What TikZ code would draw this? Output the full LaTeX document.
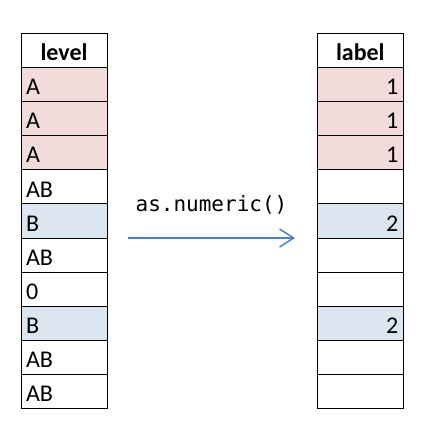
\documentclass[tikz,border=0pt]{standalone}
\usepackage{fontspec}
\setmainfont{Carlito}
\setmonofont{DejaVu Sans Mono}
\usepackage{tikz}
\usetikzlibrary{arrows.meta,positioning}
\definecolor{cellpink}{RGB}{242,220,219}
\definecolor{cellblue}{RGB}{220,230,241}
\definecolor{arrblue}{RGB}{79,129,189}

\begin{document}
\begin{tikzpicture}[x=1pt,y=-1pt,
  font=\fontsize{24}{28}\selectfont,
  cell/.style={draw=black,line width=1pt,minimum width=86pt,minimum height=34pt,
    text width=76pt,inner xsep=5pt,inner ysep=0pt,text height=20pt,text depth=0pt},
  lvcell/.style={cell,align=left},
  lbcell/.style={cell,align=right},
  head/.style={cell,align=center,font=\fontsize{24}{28}\selectfont\bfseries},
  pinkcell/.style={fill=cellpink},
  bluecell/.style={fill=cellblue},
  plaincell/.style={fill=white},
  conv/.style={-{Straight Barb[length=14pt,width=18pt,line width=1.5pt]},draw=arrblue,line width=1.5pt},
  fn/.style={font=\fontsize{21}{24}\ttfamily,anchor=base}]

\path[use as bounding box] (0,0) rectangle (425,443);
\node[head] (lv0) at (64,51) {level};
\node[head] (lb0) at (360.3,51) {label};
\foreach \i/\lv/\lb/\fc in {1/A/1/pinkcell,2/A/1/pinkcell,3/A/1/pinkcell,
    4/AB/{}/plaincell,5/B/2/bluecell,6/AB/{}/plaincell,7/0/{}/plaincell,
    8/B/2/bluecell,9/AB/{}/plaincell,10/AB/{}/plaincell}
{
  \node[lvcell,\fc] (lv\i) at (64,51+34*\i) {\lv};
  \node[lbcell,\fc] (lb\i) at (360.3,51+34*\i) {\lb};
}
\coordinate (convS) at (128,238);
\coordinate (convE) at (295,238);
\draw[conv] (convS)--(convE);
\node[fn] (fname) at (211.5,211.5) {as.numeric()};

\end{tikzpicture}
\end{document}
